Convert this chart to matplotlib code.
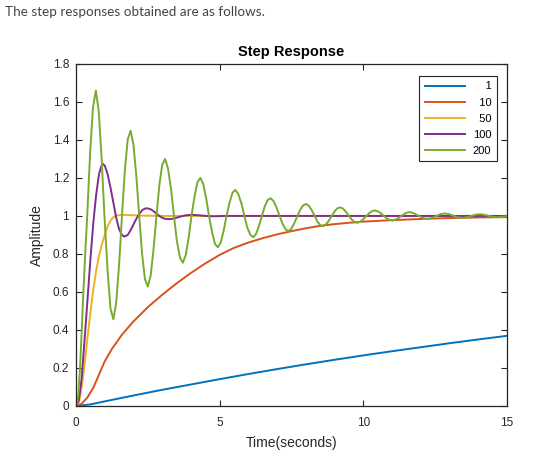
import matplotlib
matplotlib.use("Agg")
import matplotlib.pyplot as plt
from matplotlib.ticker import FuncFormatter

# ---------------- data ----------------
labels = ["1", "10", "50", "100", "200"]
colors = ["#0072BD", "#D95319", "#EDB120", "#7E2F8E", "#77AC30"]

blue_t = [0, 0.5, 1, 2, 3, 4, 5, 6, 7, 8, 9, 10, 11, 12, 13, 14, 15]
blue_y = [0, 0.008, 0.024, 0.055, 0.085, 0.113, 0.141, 0.168, 0.194, 0.219,
          0.243, 0.266, 0.288, 0.309, 0.330, 0.350, 0.369]

orange_t = [0, 0.2, 0.4, 0.6, 0.8, 1.0, 1.25, 1.6, 2.0, 2.5, 3.0, 3.5, 4.0, 4.5,
            5.0, 5.5, 6.0, 6.5, 7.0, 7.5, 8.0, 8.5, 9.0, 9.5, 10, 11, 12, 13, 14, 15]
orange_y = [0, 0.012, 0.045, 0.095, 0.165, 0.235, 0.30, 0.375, 0.445, 0.52, 0.585,
            0.645, 0.70, 0.75, 0.795, 0.832, 0.86, 0.883, 0.903, 0.92, 0.935, 0.948,
            0.957, 0.964, 0.970, 0.978, 0.984, 0.989, 0.992, 0.994]

yellow_t = [0, 0.1, 0.2, 0.3, 0.4, 0.5, 0.6, 0.7, 0.8, 0.9, 1.0, 1.1, 1.2, 1.3,
            1.4, 1.6, 1.8, 2.2, 3.0, 15]
yellow_y = [0, 0.02, 0.10, 0.22, 0.36, 0.49, 0.61, 0.71, 0.79, 0.85, 0.90, 0.945,
            0.975, 0.993, 1.002, 1.006, 1.005, 1.002, 1.0, 1.0]

purple_t = [0, 0.1, 0.2, 0.3, 0.4, 0.5, 0.6, 0.7, 0.8, 0.9, 0.93, 1.0, 1.1, 1.2,
            1.3, 1.4, 1.5, 1.6, 1.68, 1.8, 1.9, 2.0, 2.1, 2.2, 2.3, 2.4, 2.48,
            2.6, 2.7, 2.8, 2.9, 3.0, 3.1, 3.26, 3.4, 3.6, 3.8, 4.04, 4.3, 4.6,
            4.82, 5.2, 6.0, 15]
purple_y = [0, 0.03, 0.15, 0.35, 0.56, 0.77, 0.96, 1.11, 1.22, 1.27, 1.274, 1.265,
            1.22, 1.15, 1.07, 0.99, 0.93, 0.90, 0.891, 0.90, 0.925, 0.955, 0.985,
            1.01, 1.03, 1.039, 1.040, 1.035, 1.025, 1.012, 1.0, 0.99, 0.985, 0.983,
            0.986, 0.995, 1.003, 1.006, 1.003, 0.999, 0.998, 1.0, 1.0, 1.0]

green_t = [0, 0.04, 0.08, 0.14, 0.20, 0.25, 0.32, 0.39, 0.49, 0.59, 0.69,
           0.79, 0.89, 0.99, 1.10, 1.20, 1.30,
           1.40, 1.50, 1.60, 1.70, 1.80, 1.90,
           2.00, 2.10, 2.20, 2.30, 2.40, 2.50,
           2.60, 2.70, 2.80, 2.90, 3.00, 3.10,
           3.20, 3.31, 3.41, 3.51, 3.62, 3.72,
           3.82, 3.92, 4.02, 4.13, 4.23, 4.33,
           4.43, 4.53, 4.63, 4.74, 4.84, 4.94,
           5.04, 5.14, 5.24, 5.35, 5.45, 5.55,
           5.65, 5.76, 5.86, 5.96, 6.07, 6.17,
           6.27, 6.37, 6.47, 6.57, 6.67, 6.77,
           6.88, 6.98, 7.09, 7.19, 7.30, 7.40,
           7.50, 7.60, 7.71, 7.81, 7.91, 8.01,
           8.11, 8.21, 8.31, 8.40, 8.50, 8.60,
           8.70, 8.80, 8.90, 9.00, 9.10, 9.20,
           9.30, 9.40, 9.50, 9.60, 9.70, 9.80,
           9.90, 10.00, 10.11, 10.21, 10.31, 10.41,
           10.51, 10.61, 10.72, 10.82, 10.92, 11.02,
           11.12, 11.22, 11.33, 11.43, 11.53, 11.63,
           11.78, 11.93, 12.09, 12.24,
           12.39, 12.54, 12.70, 12.85,
           13.00, 13.15, 13.31, 13.46,
           13.61, 13.76, 13.92, 14.07,
           14.22, 14.37, 14.53, 14.68, 15.00]
green_y = [0, 0.015, 0.06, 0.20, 0.40, 0.58, 0.80, 1.00, 1.33, 1.57, 1.66,
           1.553, 1.309, 1.00, 0.710, 0.513, 0.456,
           0.544, 0.745, 1.00, 1.240, 1.402, 1.449,
           1.376, 1.210, 1.00, 0.801, 0.667, 0.628,
           0.688, 0.826, 1.00, 1.160, 1.269, 1.300,
           1.251, 1.140, 1.00, 0.869, 0.780, 0.754,
           0.794, 0.885, 1.00, 1.107, 1.179, 1.200,
           1.168, 1.094, 1.00, 0.912, 0.852, 0.835,
           0.862, 0.923, 1.00, 1.073, 1.123, 1.137,
           1.115, 1.064, 1.00, 0.940, 0.900, 0.888,
           0.906, 0.948, 1.00, 1.050, 1.083, 1.093,
           1.078, 1.044, 1.00, 0.958, 0.929, 0.921,
           0.934, 0.963, 1.00, 1.034, 1.056, 1.063,
           1.053, 1.029, 1.00, 0.971, 0.952, 0.946,
           0.955, 0.975, 1.00, 1.024, 1.040, 1.045,
           1.038, 1.021, 1.00, 0.981, 0.968, 0.964,
           0.970, 0.983, 1.00, 1.015, 1.026, 1.029,
           1.024, 1.014, 1.00, 0.987, 0.979, 0.976,
           0.980, 0.989, 1.00, 1.011, 1.018, 1.020,
           1.013, 1.00, 0.988, 0.984,
           0.989, 1.00, 1.010, 1.013,
           1.009, 1.00, 0.992, 0.989,
           0.993, 1.00, 1.007, 1.009,
           1.006, 1.00, 0.995, 0.993, 0.999]

x_ticks = [0, 5, 10, 15]
y_ticks = [0, 0.2, 0.4, 0.6, 0.8, 1.0, 1.2, 1.4, 1.6, 1.8]

series = [(blue_t, blue_y), (orange_t, orange_y), (yellow_t, yellow_y),
          (purple_t, purple_y), (green_t, green_y)]

# ---------------- figure ----------------
fig = plt.figure(figsize=(5.41, 4.65), dpi=100)
fig.text(0.009, 0.975, "The step responses obtained are as follows.",
         fontsize=9.7, color="#444444", family=["Lato", "DejaVu Sans"],
         ha="left", va="center")

ax = fig.add_axes([0.1405, 0.127, 0.7965, 0.7355])
axis_color = "#262626"
for (t, y), c, lab in zip(series, colors, labels):
    ax.plot(t, y, color=c, lw=1.4, label=lab.rjust(3, "\u2007"))

ax.set_xlim(0, 15)
ax.set_ylim(0, 1.8)
ax.set_xticks(x_ticks)
ax.set_yticks(y_ticks)
ax.yaxis.set_major_formatter(FuncFormatter(lambda v, p: f"{v:g}"))
ax.tick_params(direction="in", length=4, width=0.8, top=True, right=True,
               colors=axis_color, labelsize=8.5)
ax.tick_params(axis="x", pad=8)
ax.tick_params(axis="y", pad=5)
for lbl in ax.get_xticklabels() + ax.get_yticklabels():
    lbl.set_family(["Liberation Sans", "DejaVu Sans"])
for sp in ax.spines.values():
    sp.set_color(axis_color)
    sp.set_linewidth(0.9)

ax.set_title("Step Response", fontsize=10.5, fontweight="bold", color="black",
             family=["Liberation Sans", "DejaVu Sans"], pad=6)
ax.set_xlabel("Time(seconds)", fontsize=10, color=axis_color,
              family=["Liberation Sans", "DejaVu Sans"], labelpad=5)
ax.set_ylabel("Amplitude", fontsize=10, color=axis_color,
              family=["Liberation Sans", "DejaVu Sans"], labelpad=6)

leg = ax.legend(loc="upper right", bbox_to_anchor=(0.977, 0.965), fontsize=8,
                frameon=True, fancybox=False, framealpha=1, edgecolor=axis_color,
                handlelength=3.6, handletextpad=0.7, labelspacing=0.55,
                borderpad=0.5, borderaxespad=0)
leg.get_frame().set_linewidth(0.8)
for txt in leg.get_texts():
    txt.set_family(["Liberation Sans", "DejaVu Sans"])

fig.savefig("out.png", dpi=100, facecolor="white")
